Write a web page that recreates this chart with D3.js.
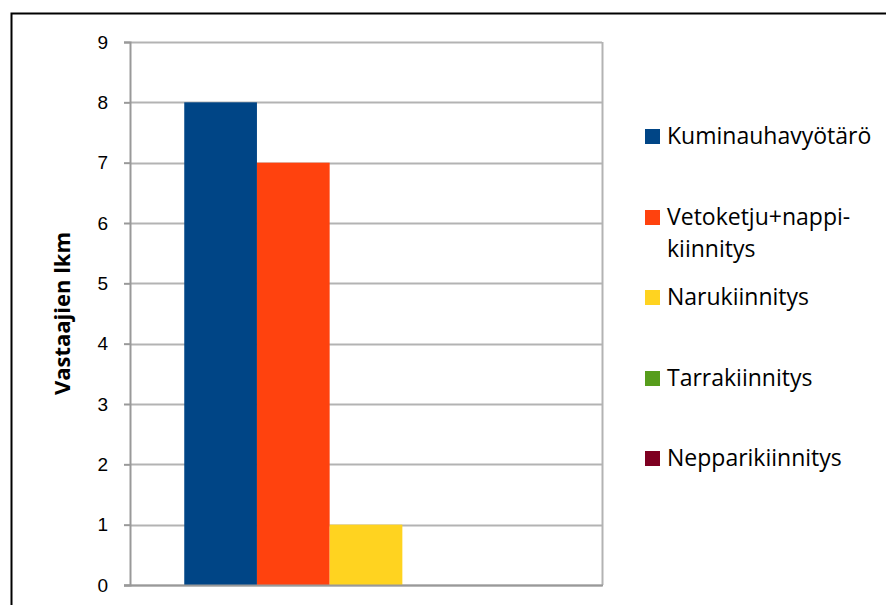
<!DOCTYPE html>
<html>
<head>
<meta charset="utf-8">
<script src="https://cdn.jsdelivr.net/npm/d3@7"></script>
<style>
  body { margin: 0; background: #fff; }
  svg { display: block; font-family: "Open Sans", Lato, sans-serif; }
</style>
</head>
<body>
<div class="chart_area"></div>
<script>
// chart data
var categories = ["Kuminauhavyötärö", "Vetoketju+nappi-kiinnitys", "Narukiinnitys", "Tarrakiinnitys", "Nepparikiinnitys"];
var legendLines = [["Kuminauhavyötärö"], ["Vetoketju+nappi-", "kiinnitys"], ["Narukiinnitys"], ["Tarrakiinnitys"], ["Nepparikiinnitys"]];
var values = [8, 7, 1, 0, 0];
var colorList = ["#004586", "#ff420e", "#ffd320", "#579d1c", "#7e0021"];
var yTicks = [0, 1, 2, 3, 4, 5, 6, 7, 8, 9];
var yTitle = "Vastaajien lkm";

var width = 886, height = 605;
var margin = { top: 42, left: 130, right: 284, bottom: 20 };
var plotW = 602 - margin.left,
    plotH = 585 - margin.top;

var svg = d3.select(".chart_area")
    .append("svg")
    .attr("width", width)
    .attr("height", height);

// outer chart border (only top/left visible in frame)
svg.append("rect")
    .attr("x", 11.5).attr("y", 13.5)
    .attr("width", 900).attr("height", 700)
    .attr("fill", "none")
    .attr("stroke", "#000")
    .attr("stroke-width", 2);

var g = svg.append("g")
    .attr("transform", "translate(" + margin.left + "," + margin.top + ")");

var y = d3.scaleLinear().domain([0, 9]).range([plotH, 0]);

// one category group, bars side by side
var x = d3.scaleBand()
    .domain(categories)
    .range([plotW / 2 - 2.5 * 72.7, plotW / 2 + 2.5 * 72.7]);

// gridlines
g.append("g")
    .selectAll("line")
    .data(yTicks)
    .enter()
    .append("line")
    .attr("x1", 0).attr("x2", plotW)
    .attr("y1", function(d) { return Math.round(y(d)) + 0.5; })
    .attr("y2", function(d) { return Math.round(y(d)) + 0.5; })
    .attr("stroke", "#b3b3b3")
    .attr("stroke-width", 2);

// right edge of plot
g.append("line")
    .attr("x1", plotW + 0.5).attr("x2", plotW + 0.5)
    .attr("y1", 0).attr("y2", plotH)
    .attr("stroke", "#b3b3b3")
    .attr("stroke-width", 2);

// bars
g.selectAll("rect.bar")
    .data(values)
    .enter()
    .append("rect")
    .attr("class", "bar")
    .attr("x", function(d, i) { return x(categories[i]); })
    .attr("y", function(d) { return y(d); })
    .attr("width", x.bandwidth())
    .attr("height", function(d) { return plotH - y(d); })
    .attr("fill", function(d, i) { return colorList[i]; });

// y-axis
var y_axis = g.append("g")
    .attr("class", "y_axis")
    .call(d3.axisLeft(y).tickValues(yTicks).tickSize(6).tickPadding(16).tickFormat(d3.format("d")));

y_axis.select(".domain")
    .attr("stroke", "#999")
    .attr("stroke-width", 2);
y_axis.selectAll("line")
    .attr("stroke", "#999")
    .attr("stroke-width", 2);
y_axis.selectAll("text")
    .style("font-size", "19px")
    .style("fill", "#000");

// bottom axis line
g.append("line")
    .attr("x1", -6).attr("x2", plotW + 1)
    .attr("y1", plotH + 0.5).attr("y2", plotH + 0.5)
    .attr("stroke", "#999")
    .attr("stroke-width", 2);

// y title
svg.append("text")
    .attr("transform", "translate(70," + (margin.top + plotH / 2) + ")rotate(-90)")
    .attr("text-anchor", "middle")
    .style("font-size", "22px")
    .style("font-weight", "bold")
    .text(yTitle);

// legend
var legendY = [136, 217, 297, 378, 458];
var legend = svg.append("g").attr("class", "legend");

var item = legend.selectAll("g")
    .data(legendLines)
    .enter()
    .append("g")
    .attr("transform", function(d, i) { return "translate(645," + legendY[i] + ")"; });

item.append("rect")
    .attr("x", 0).attr("y", -7)
    .attr("width", 15).attr("height", 15)
    .attr("fill", function(d, i) { return colorList[i]; });

item.append("text")
    .attr("x", 22)
    .attr("y", 8)
    .style("font-size", "23px")
    .style("fill", "#000")
    .selectAll("tspan")
    .data(function(d) { return d; })
    .enter()
    .append("tspan")
    .attr("x", 22)
    .attr("dy", function(d, i) { return i === 0 ? 0 : 32; })
    .text(function(d) { return d; });
</script>
</body>
</html>
